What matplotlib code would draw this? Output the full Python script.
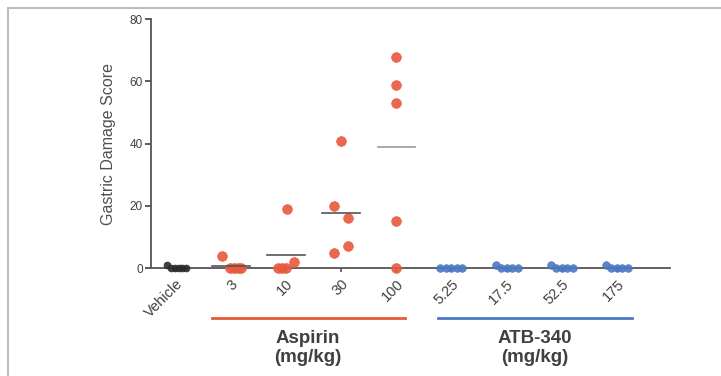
import matplotlib
matplotlib.use("Agg")
import matplotlib.pyplot as plt
from matplotlib.patches import Rectangle

plt.rcParams['font.family'] = ['Liberation Sans', 'DejaVu Sans']

# categories along the x axis
categories = ['Vehicle', '3', '10', '30', '100', '5.25', '17.5', '52.5', '175']

# individual gastric damage scores per group
scores = [
    [1, 0, 0, 0, 0, 0],      # vehicle
    [4, 0, 0, 0, 0],         # aspirin 3
    [0, 0, 19, 0, 2],        # aspirin 10
    [20, 5, 41, 16, 7],      # aspirin 30
    [68, 59, 53, 15, 0],     # aspirin 100
    [0, 0, 0, 0, 0],         # ATB-340 5.25
    [1, 0, 0, 0, 0],         # ATB-340 17.5
    [1, 0, 0, 0, 0],         # ATB-340 52.5
    [1, 0, 0, 0, 0],         # ATB-340 175
]
# horizontal offsets of the points (scatter spread, in category units)
offsets = [
    [-0.16, -0.09, -0.02, 0.05, 0.12, 0.19],
    [-0.16, -0.02, 0.05, 0.12, 0.19],
    [-0.15, -0.07, 0.02, 0.0, 0.14],
    [-0.13, -0.13, 0.0, 0.12, 0.12],
    [0, 0, 0, 0, 0],
    [-0.2, -0.1, 0.0, 0.1, 0.2],
    [-0.2, -0.1, 0.0, 0.1, 0.2],
    [-0.2, -0.1, 0.0, 0.1, 0.2],
    [-0.2, -0.1, 0.0, 0.1, 0.2],
]
# group means drawn as short horizontal lines (aspirin groups)
mean_idx = [1, 2, 3, 4]
means = [0.8, 4.2, 17.8, 39.0]

groups = ['Aspirin\n(mg/kg)', 'ATB-340\n(mg/kg)']
group_span = [(0.65, 4.15), (4.76, 8.27)]

red = '#e9583d'
blue = '#4a78c2'
black = '#2b2b2b'
colors = [black] + [red] * 4 + [blue] * 4
sizes = [5] + [7] * 4 + [5.5] * 4
text_c = '#404040'

fig = plt.figure(figsize=(7.21, 3.76), dpi=100)
ax = fig.add_axes([0.2094, 0.287, 0.929 - 0.2094, 0.949 - 0.287])

for i, (vals, offs) in enumerate(zip(scores, offsets)):
    xs = [i + o for o in offs]
    ax.plot(xs, vals, 'o', color=colors[i], ms=sizes[i], mec=colors[i],
            mew=0.5, alpha=0.9, clip_on=False, zorder=3)

for i, m in zip(mean_idx, means):
    lc = '#999999' if i == 4 else '#555555'
    ax.plot([i - 0.34, i + 0.34], [m, m], color=lc, lw=1.2, zorder=4)

ax.set_xlim(-0.45, 8.96)
ax.set_ylim(0, 80)
ax.set_yticks([0, 20, 40, 60, 80])
ax.set_xticks(range(len(categories)))
ax.set_xticklabels(categories, rotation=45, ha='right', rotation_mode='anchor',
                   fontsize=10.5, color=text_c)
ax.tick_params(axis='y', labelsize=8.5, colors=text_c, length=4, width=1.2, pad=2)
ax.tick_params(axis='x', length=3, width=1.2, colors='#555555')
for lab in ax.get_xticklabels():
    lab.set_color(text_c)
ax.set_ylabel('Gastric Damage Score', fontsize=11.5, color='#505050', labelpad=10)

for side in ['top', 'right']:
    ax.spines[side].set_visible(False)
for side in ['left', 'bottom']:
    ax.spines[side].set_color('#555555')
    ax.spines[side].set_linewidth(1.3)

# group brackets below the axis
for (a, b), name, c in zip(group_span, groups, [red, blue]):
    ax.plot([a, b], [-16.2, -16.2], color=c, lw=2,
            clip_on=False, transform=ax.transData)
    ax.text((a + b) / 2, -19.8, name, ha='center', va='top',
            fontsize=13.5, fontweight='bold', color=text_c, linespacing=1.2)

# light frame of the original panel
fig.patches.append(Rectangle((8 / 721, -0.1), 1.2, (376 - 8) / 376 + 0.1,
                             transform=fig.transFigure, fill=False,
                             ec='#bdbdbd', lw=1.5))

fig.savefig('out.png', dpi=100)
